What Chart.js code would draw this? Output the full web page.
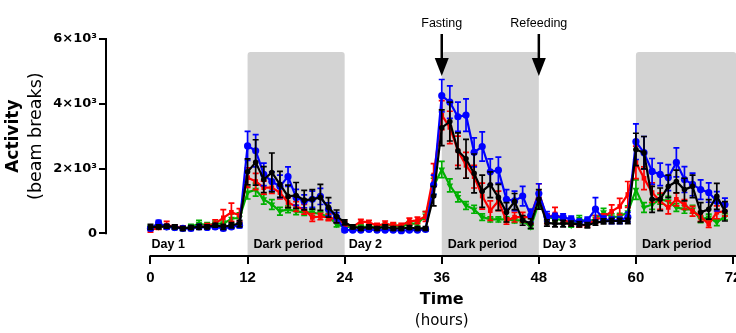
<!DOCTYPE html>
<html>
<head>
<meta charset="utf-8">
<script src="https://cdn.jsdelivr.net/npm/chart.js@4"></script>
<style>
body{margin:0;overflow:hidden;background:#fff}
#wrap{width:770px;height:333px;position:relative}
</style>
</head>
<body>
<div id="wrap"><canvas id="activityChart"></canvas></div>
<script>
// hours since start of recording
var hours = [0,1,2,3,4,5,6,7,8,9,10,11,12,13,14,15,16,17,18,19,20,21,22,23,
  24,25,26,27,28,29,30,31,32,33,34,35,36,37,38,39,40,41,42,43,44,45,46,47,
  48,49,50,51,52,53,54,55,56,57,58,59,60,61,62,63,64,65,66,67,68,69,70,71];

var redVals = [100,180,250,200,180,150,200,220,300,480,650,560,
  1720,1600,1410,1410,1260,950,830,740,490,520,490,430,
  300,200,370,340,230,300,250,250,370,400,520,1800,
  3650,3270,2550,2100,1750,1150,700,1000,380,500,500,500,
  1280,450,600,430,320,250,260,430,500,680,830,1200,
  2190,1700,1260,990,800,1050,890,680,520,280,650,680];
var redErr = [60,60,120,60,50,50,60,80,120,250,280,200,
  300,250,200,180,200,150,150,150,120,100,100,100,
  80,60,60,60,80,80,80,60,100,100,150,350,
  450,500,450,400,350,400,300,300,100,150,150,200,
  250,150,200,100,80,60,60,120,100,200,250,400,
  500,350,300,250,200,200,150,150,150,100,200,150];

var greenVals = [180,200,200,180,150,200,300,250,300,300,450,480,
  1260,1350,1050,890,680,740,680,650,650,590,520,280,
  200,200,200,200,200,250,250,200,300,300,550,1450,
  1970,1480,1120,860,740,500,430,430,430,400,400,200,
  950,500,450,400,250,450,350,450,650,500,520,650,
  1350,800,890,1050,990,800,740,740,430,490,340,520];
var greenErr = [60,60,60,60,60,80,100,80,80,80,150,150,
  200,200,150,150,120,100,100,100,100,80,100,80,
  60,60,60,60,60,60,60,60,60,80,120,250,
  250,200,150,120,120,100,80,80,80,80,80,60,
  150,100,80,80,60,100,80,100,120,100,100,200,
  300,150,150,150,150,120,120,120,100,100,100,100];

var blueVals = [150,320,200,180,150,150,200,180,200,150,200,250,
  2700,2550,1820,1600,1450,1750,1110,990,1050,1140,740,490,
  100,100,100,120,100,100,100,80,100,100,120,1500,
  4250,4050,3600,3650,2500,2680,1900,1950,1050,1000,1150,550,
  1230,520,520,500,430,340,400,750,430,400,400,500,
  2830,2490,1910,1820,1720,2190,1660,1510,1350,1260,990,890];
var blueErr = [60,80,60,60,60,60,60,60,60,60,60,80,
  450,500,350,300,350,300,250,200,250,250,200,150,
  60,50,50,50,50,50,50,50,50,50,50,300,
  500,500,450,500,450,450,400,400,300,300,300,200,
  300,150,100,100,100,100,100,350,100,100,100,150,
  550,500,400,350,400,450,400,350,300,300,300,200];

var blackVals = [200,200,220,200,150,180,200,200,250,200,250,300,
  1900,2190,1660,1880,1510,1140,1170,1025,1050,1110,800,520,
  340,200,150,200,150,200,150,150,180,150,150,1150,
  3260,3450,2550,2300,1850,1300,1500,1110,650,980,400,300,
  1050,320,300,300,300,280,250,330,370,380,380,380,
  2590,2490,1050,1050,1450,1600,1350,1450,650,740,1140,680];
var blackErr = [80,60,60,60,60,60,80,60,60,80,80,100,
  400,700,400,600,400,350,400,300,300,400,300,200,
  80,60,60,60,60,60,60,60,60,60,60,300,
  550,600,550,600,600,500,400,400,300,250,150,150,
  300,100,100,100,80,80,80,80,80,80,80,80,
  500,500,400,350,350,350,350,350,300,300,400,300];

var xTicks = [0,12,24,36,48,60,72];
var yTicks = [0,2000,4000,6000];
var darkPeriods = [[12,24],[36,48],[60,72.4]];
var periodLabels = [['Day 1',0],['Dark period',12],['Day 2',24],['Dark period',36],['Day 3',48],['Dark period',60]];
var arrowMarks = [['Fasting',36],['Refeeding',48]];

var SANS = "'Liberation Sans', Arial, sans-serif";
var WIDE = "'DejaVu Sans', sans-serif";

function pts(vals) {
  return hours.map(function(h, i) { return {x: h, y: vals[i]}; });
}

function makeSet(label, color, vals, errs, style, radius, order) {
  return {
    label: label,
    data: pts(vals),
    errors: errs,
    borderColor: color,
    backgroundColor: color,
    borderWidth: 2.2,
    pointStyle: style,
    pointRadius: radius,
    pointRotation: style === 'triangle' ? 180 : 0,
    pointBorderWidth: 0,
    tension: 0,
    order: order
  };
}

var decorPlugin = {
  id: 'decor',
  beforeDatasetsDraw: function(chart) {
    var c = chart.ctx, xs = chart.scales.x, ys = chart.scales.y, area = chart.chartArea;
    c.save();
    c.fillStyle = 'rgb(211,211,211)';
    darkPeriods.forEach(function(p) {
      var x0 = xs.getPixelForValue(p[0]), x1 = xs.getPixelForValue(p[1]);
      var top = ys.getPixelForValue(5600);
      c.beginPath();
      c.roundRect(x0, top, x1 - x0, area.bottom - top, [3, 3, 0, 0]);
      c.fill();
    });
    c.fillStyle = '#000';
    c.font = 'bold 12.5px ' + SANS;
    c.textBaseline = 'middle';
    c.textAlign = 'left';
    periodLabels.forEach(function(l) {
      var off = l[0] === 'Dark period' ? 6 : (l[1] === 0 ? 1 : 4);
      c.fillText(l[0], xs.getPixelForValue(l[1]) + off, 245);
    });
    c.restore();
  },
  afterDatasetDraw: function(chart, args) {
    var ds = chart.data.datasets[args.index];
    var c = chart.ctx, ys = chart.scales.y, xs = chart.scales.x;
    c.save();
    c.strokeStyle = ds.borderColor;
    c.lineWidth = 1.7;
    ds.data.forEach(function(p, i) {
      var e = ds.errors[i];
      var px = xs.getPixelForValue(p.x);
      var y0 = ys.getPixelForValue(p.y - e), y1 = ys.getPixelForValue(p.y + e);
      c.beginPath();
      c.moveTo(px, y0); c.lineTo(px, y1);
      c.moveTo(px - 3, y0); c.lineTo(px + 3, y0);
      c.moveTo(px - 3, y1); c.lineTo(px + 3, y1);
      c.stroke();
    });
    c.restore();
  },
  afterDraw: function(chart) {
    var c = chart.ctx, xs = chart.scales.x, ys = chart.scales.y, area = chart.chartArea;
    c.save();
    c.strokeStyle = '#000';
    c.lineWidth = 2;
    // detached axis lines
    c.beginPath();
    c.moveTo(area.left, ys.getPixelForValue(0) + 1);
    c.lineTo(area.left, ys.getPixelForValue(6000) - 1);
    c.moveTo(xs.getPixelForValue(0) - 1, area.bottom);
    c.lineTo(chart.width, area.bottom);
    c.stroke();

    // fasting / refeeding arrows
    c.fillStyle = '#000';
    arrowMarks.forEach(function(a) {
      var px = xs.getPixelForValue(a[1]);
      c.font = '12.5px ' + SANS;
      c.textAlign = 'center';
      c.textBaseline = 'middle';
      c.fillText(a[0], px, 24);
      c.lineWidth = 2.5;
      c.beginPath();
      c.moveTo(px, 34); c.lineTo(px, 60);
      c.stroke();
      c.beginPath();
      c.moveTo(px - 7, 58); c.lineTo(px + 7, 58); c.lineTo(px, 76);
      c.closePath();
      c.fill();
    });

    // axis titles
    var midX = (xs.getPixelForValue(0) + xs.getPixelForValue(72)) / 2;
    c.textAlign = 'center';
    c.textBaseline = 'middle';
    c.font = 'bold 16px ' + WIDE;
    c.fillText('Time', midX, 300);
    c.font = '15px ' + WIDE;
    c.fillText('(hours)', midX, 321);

    var midY = (ys.getPixelForValue(0) + ys.getPixelForValue(6000)) / 2;
    c.translate(14, midY);
    c.rotate(-Math.PI / 2);
    c.font = 'bold 17px ' + WIDE;
    c.fillText('Activity', 0, 0);
    c.font = '17.5px ' + WIDE;
    c.fillText('(beam breaks)', 0, 22);
    c.restore();
  }
};

var ctx = document.getElementById('activityChart').getContext('2d');
var activityChart = new Chart(ctx, {
  type: 'line',
  data: {
    datasets: [
      makeSet('Black', '#000000', blackVals, blackErr, 'circle', 2.8, 1),
      makeSet('Blue', '#0000ff', blueVals, blueErr, 'circle', 3.6, 2),
      makeSet('Red', '#ff0000', redVals, redErr, 'rect', 3.3, 3),
      makeSet('Green', '#00b000', greenVals, greenErr, 'triangle', 3.9, 4)
    ]
  },
  options: {
    responsive: true,
    maintainAspectRatio: false,
    animation: false,
    layout: { padding: { top: 39, right: 37, left: 0, bottom: 0 } },
    plugins: { legend: { display: false }, tooltip: { enabled: false } },
    scales: {
      x: {
        type: 'linear',
        min: -5.5,
        max: 72,
        afterBuildTicks: function(scale) {
          scale.ticks = xTicks.map(function(v) { return {value: v}; });
        },
        afterFit: function(scale) { scale.height = 77; },
        border: { display: false },
        grid: { drawOnChartArea: false, drawTicks: true, tickLength: 8, color: '#000', lineWidth: 2 },
        ticks: {
          autoSkip: false, maxRotation: 0, padding: 5, color: '#000',
          font: { family: SANS, size: 15, weight: 'bold' }
        }
      },
      y: {
        min: -700,
        max: 6000,
        afterBuildTicks: function(scale) {
          scale.ticks = yTicks.map(function(v) { return {value: v}; });
        },
        afterFit: function(scale) { scale.width = 106; },
        border: { display: false },
        grid: { drawOnChartArea: false, drawTicks: true, tickLength: 7, color: '#000', lineWidth: 2 },
        ticks: {
          padding: 2, color: '#000',
          font: { family: WIDE, size: 13, weight: 'bold' },
          callback: function(v) { return v === 0 ? '0' : (v / 1000) + '×10³'; }
        }
      }
    }
  },
  plugins: [decorPlugin]
});
</script>
</body>
</html>
